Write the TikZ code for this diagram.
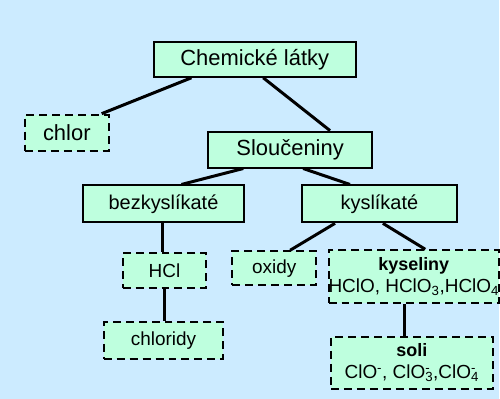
\documentclass[tikz,border=0pt]{standalone}
\usepackage{fontspec}
\setmainfont{Liberation Sans}
\definecolor{skyback}{RGB}{204,235,255}
\definecolor{mintfill}{RGB}{190,255,222}

\begin{document}
\begin{tikzpicture}[x=1pt,y=-1pt,
            solidbox/.style = {
                draw,
                fill = mintfill,
                line width = 2pt,
                inner sep = 0pt,
                align = center
            },
            dashbox/.style = {
                solidbox,
                dash pattern = on 8pt off 5pt
            },
            link/.style = {
                draw,
                line width = 3pt
            }
        ]
            \fill[skyback] (0,0) rectangle (500,400);

            \node[solidbox, minimum width = 203pt, minimum height = 35pt,
                font = \fontsize{22}{26}\selectfont] (chem) at (255.5,59.5) {Chemické látky};
            \node[dashbox, minimum width = 84pt, minimum height = 36pt,
                font = \fontsize{22}{26}\selectfont] (chlor) at (67,133) {chlor};
            \node[solidbox, minimum width = 164pt, minimum height = 36pt,
                font = \fontsize{22}{26}\selectfont] (slou) at (291,150) {Sloučeniny};
            \node[solidbox, minimum width = 162pt, minimum height = 37pt,
                font = \fontsize{20}{24}\selectfont] (bez) at (164,204.5) {bezkyslíkaté};
            \node[solidbox, minimum width = 155pt, minimum height = 37pt,
                font = \fontsize{20}{24}\selectfont] (kys) at (380.5,204.5) {kyslíkaté};
            \node[dashbox, minimum width = 84pt, minimum height = 35pt,
                font = \fontsize{19}{22}\selectfont] (hcl) at (165,271.5) {HCl};
            \node[dashbox, minimum width = 120pt, minimum height = 37pt,
                font = \fontsize{19}{22}\selectfont] (chlorid) at (164,341.5) {chloridy};
            \node[dashbox, minimum width = 84pt, minimum height = 34pt,
                font = \fontsize{19}{22}\selectfont] (oxid) at (275,269) {oxidy};
            \node[dashbox, minimum width = 166pt, minimum height = 53pt,
                font = \fontsize{19}{22}\selectfont] (kysel) at (415,277.5)
                {{\bfseries\fontsize{18}{22}\selectfont kyseliny}\\HClO, HClO\textsubscript{3},HClO\textsubscript{4}};
            \node[dashbox, minimum width = 162pt, minimum height = 52pt,
                font = \fontsize{19}{22}\selectfont] (soli) at (413,364)
                {{\bfseries\fontsize{18}{22}\selectfont soli}\\ClO\textsuperscript{-}, ClO\rlap{\textsuperscript{-}}\textsubscript{3},ClO\rlap{\textsuperscript{-}}\textsubscript{4}};

            % spojnice
            \draw[link] ([xshift=39pt]chem.south west) -- ([xshift=-8pt]chlor.north east);
            \draw[link] ([xshift=111pt]chem.south west) -- ([xshift=123pt]slou.north west);
            \draw[link] ([xshift=36pt]slou.south west) -- ([xshift=100pt]bez.north west);
            \draw[link] ([xshift=96pt]slou.south west) -- ([xshift=49pt]kys.north west);
            \draw[link] ([xshift=34pt]kys.south west) -- ([xshift=59pt]oxid.north west);
            \draw[link] ([xshift=82pt]kys.south west) -- ([xshift=98pt]kysel.north west);
            \draw[link] ([xshift=-1pt]bez.south) -- ([xshift=-1pt]bez.south |- hcl.north);
            \draw[link] (hcl.south) -- (hcl.south |- chlorid.north);
            \draw[link] ([xshift=77pt]kysel.south west) -- ([xshift=77pt]kysel.south west |- soli.north);
        \end{tikzpicture}
\end{document}
